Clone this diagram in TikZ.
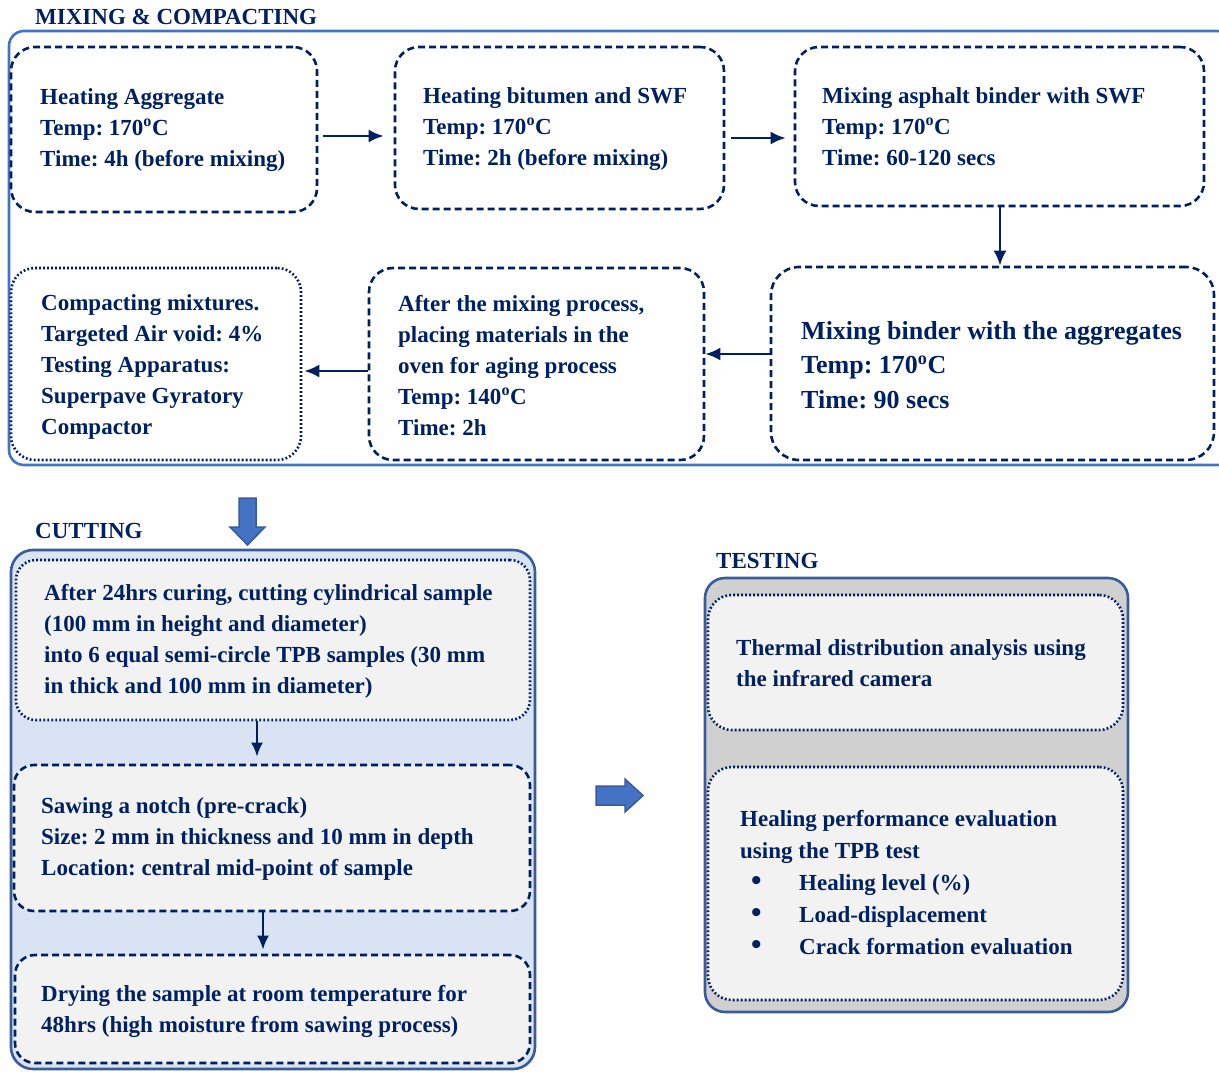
\documentclass[tikz,border=0pt]{standalone}
\usepackage{fontspec}
\setmainfont{Liberation Serif}
\usetikzlibrary{positioning,arrows.meta}
\definecolor{navy}{HTML}{002060}
\definecolor{mixblue}{HTML}{4472C4}
\definecolor{frameblue}{HTML}{3A5A9A}
\definecolor{cutfill}{HTML}{DAE3F3}
\definecolor{testfill}{HTML}{D0D0D0}
\definecolor{innerfill}{HTML}{F2F2F2}
\frenchspacing
\tikzset{
  flowarrow/.style={-{Latex[length=15pt,width=13pt]}, line width=2.6pt, navy},
  dashbox/.style={draw=navy, line width=2.6pt, dash pattern=on 7pt off 4pt, rounded corners=24pt, inner sep=0pt},
  dotbox/.style={draw=navy, line width=2.6pt, dash pattern=on 1.8pt off 2.2pt, rounded corners=24pt, inner sep=0pt},
  groupframe/.style={line width=2.6pt, rounded corners=20pt, inner sep=0pt},
  boxtext/.style={inner sep=0pt, align=left, anchor=west, text=navy, font=\bfseries\fontsize{23}{31}\selectfont},
  grouptitle/.style={inner sep=0pt, anchor=west, text=navy, font=\bfseries\fontsize{23}{31}\selectfont},
  blockarrow/.style={fill=mixblue, draw=frameblue, line width=1.5pt, line join=miter}
}

\begin{document}
\begin{tikzpicture}[x=1pt, y=-1pt]
  \useasboundingbox (0,0) rectangle (1219,1072);
  % group frames
  \node[groupframe, draw=mixblue, rounded corners=15pt, minimum width=1223pt, minimum height=434pt] (mixing) at (620.5,248) {};
  \node[groupframe, draw=frameblue, fill=cutfill, rounded corners=22pt, minimum width=524pt, minimum height=519pt] (cutting) at (273,809.5) {};
  \node[groupframe, draw=frameblue, fill=testfill, minimum width=423pt, minimum height=434pt] (testing) at (916.5,795) {};
  \node[grouptitle] (mixtitle) at (35,17) {MIXING \& COMPACTING};
  \node[grouptitle] (cuttitle) at (35,531) {CUTTING};
  \node[grouptitle] (testtitle) at (716,561) {TESTING};

  % mixing & compacting
  \node[dashbox, minimum width=306pt, minimum height=165pt] (heatagg) at (164,129.5) {};
  \node[dashbox, minimum width=329pt, minimum height=162pt] (heatbit) at (559.5,128) {};
  \node[dashbox, minimum width=409pt, minimum height=159pt] (mixswf) at (999.5,126.5) {};
  \node[dashbox, rounded corners=28pt, minimum width=443pt, minimum height=193pt] (mixagg) at (992.5,363.5) {};
  \node[dashbox, minimum width=335pt, minimum height=192pt] (aging) at (536.5,364) {};
  \node[dotbox, minimum width=290pt, minimum height=192pt] (compact) at (156,364) {};

  \node[boxtext] (heataggtxt) at (40,130.5) {Heating Aggregate\\Temp: 170\textsuperscript{o}C\\Time: 4h (before mixing)};
  \node[boxtext] (heatbittxt) at (423,129) {Heating bitumen and SWF\\Temp: 170\textsuperscript{o}C\\Time: 2h (before mixing)};
  \node[boxtext] (mixswftxt) at (822,127) {Mixing asphalt binder with SWF\\Temp: 170\textsuperscript{o}C\\Time: 60-120 secs};
  \node[boxtext, font=\bfseries\fontsize{26}{34.5}\selectfont] (mixaggtxt) at (801,365) {Mixing binder with the aggregates\\Temp: 170\textsuperscript{o}C\\Time: 90 secs};
  \node[boxtext] (agingtxt) at (398,365.5) {After the mixing process,\\placing materials in the\\oven for aging process\\Temp: 140\textsuperscript{o}C\\Time: 2h};
  \node[boxtext] (compacttxt) at (41,367) {Compacting mixtures.\\Targeted Air void: 4\%\\Testing Apparatus:\\Superpave Gyratory\\Compactor};

  \draw[flowarrow] ([xshift=5pt,yshift=-6.5pt]heatagg.east) -- ([xshift=-10pt,yshift=-8pt]heatbit.west);
  \draw[flowarrow] ([xshift=6pt,yshift=-10pt]heatbit.east) -- ([xshift=-8pt,yshift=-11.5pt]mixswf.west);
  \draw[flowarrow] ([xshift=0.5pt]mixswf.south) -- ([xshift=7.5pt]mixagg.north);
  \draw[flowarrow] ([yshift=9.5pt]mixagg.west) -- ([yshift=10pt]aging.east);
  \draw[flowarrow] ([yshift=-7pt]aging.west) -- ([xshift=2pt,yshift=-7pt]compact.east);

  % cutting
  \node[dotbox, fill=innerfill, rounded corners=20pt, minimum width=514pt, minimum height=160pt] (cutsample) at (273,640) {};
  \node[dashbox, fill=innerfill, rounded corners=20pt, minimum width=516pt, minimum height=146pt] (notch) at (272,838) {};
  \node[dashbox, fill=innerfill, rounded corners=20pt, minimum width=515pt, minimum height=108pt] (drying) at (272.5,1009) {};

  \node[boxtext] (cutsampletxt) at (44,641.5) {After 24hrs curing, cutting cylindrical sample\\(100 mm in height and diameter)\\into 6 equal semi-circle TPB samples (30 mm\\in thick and 100 mm in diameter)};
  \node[boxtext] (notchtxt) at (41,839) {Sawing a notch (pre-crack)\\Size: 2 mm in thickness and 10 mm in depth\\Location: central mid-point of sample};
  \node[boxtext] (dryingtxt) at (41,1011) {Drying the sample at room temperature for\\48hrs (high moisture from sawing process)};

  \draw[flowarrow, -{Latex[length=14pt,width=12pt]}] ([xshift=-16pt]cutsample.south) -- ([xshift=-15pt,yshift=7pt]notch.north);
  \draw[flowarrow, -{Latex[length=14pt,width=12pt]}] ([xshift=-9pt]notch.south) -- ([xshift=-9.5pt,yshift=4pt]drying.north);

  % testing
  \node[dotbox, fill=innerfill, minimum width=415pt, minimum height=135pt] (thermal) at (915.5,662.5) {};
  \node[dotbox, fill=innerfill, minimum width=415pt, minimum height=233pt] (healing) at (915.5,883.5) {};

  \node[boxtext] (thermaltxt) at (736,663.5) {Thermal distribution analysis using\\the infrared camera};
  \node[boxtext, font=\bfseries\fontsize{23}{32}\selectfont] (healingtxt) at (740,883) {Healing performance evaluation\\using the TPB test\\
    \hspace*{11pt}\makebox[48pt][l]{\fontsize{30}{32}\selectfont\textbullet}Healing level (\%)\\
    \hspace*{11pt}\makebox[48pt][l]{\fontsize{30}{32}\selectfont\textbullet}Load-displacement\\
    \hspace*{11pt}\makebox[48pt][l]{\fontsize{30}{32}\selectfont\textbullet}Crack formation evaluation};

  % block arrows between stages
  \draw[blockarrow] (239,498) -- (256,498) -- (256,527) -- (265,527) -- (247.5,545) -- (230,527) -- (239,527) -- cycle;
  \draw[blockarrow] (596,786) -- (625,786) -- (625,779) -- (643,795.5) -- (625,812) -- (625,805) -- (596,805) -- cycle;
\end{tikzpicture}
\end{document}
